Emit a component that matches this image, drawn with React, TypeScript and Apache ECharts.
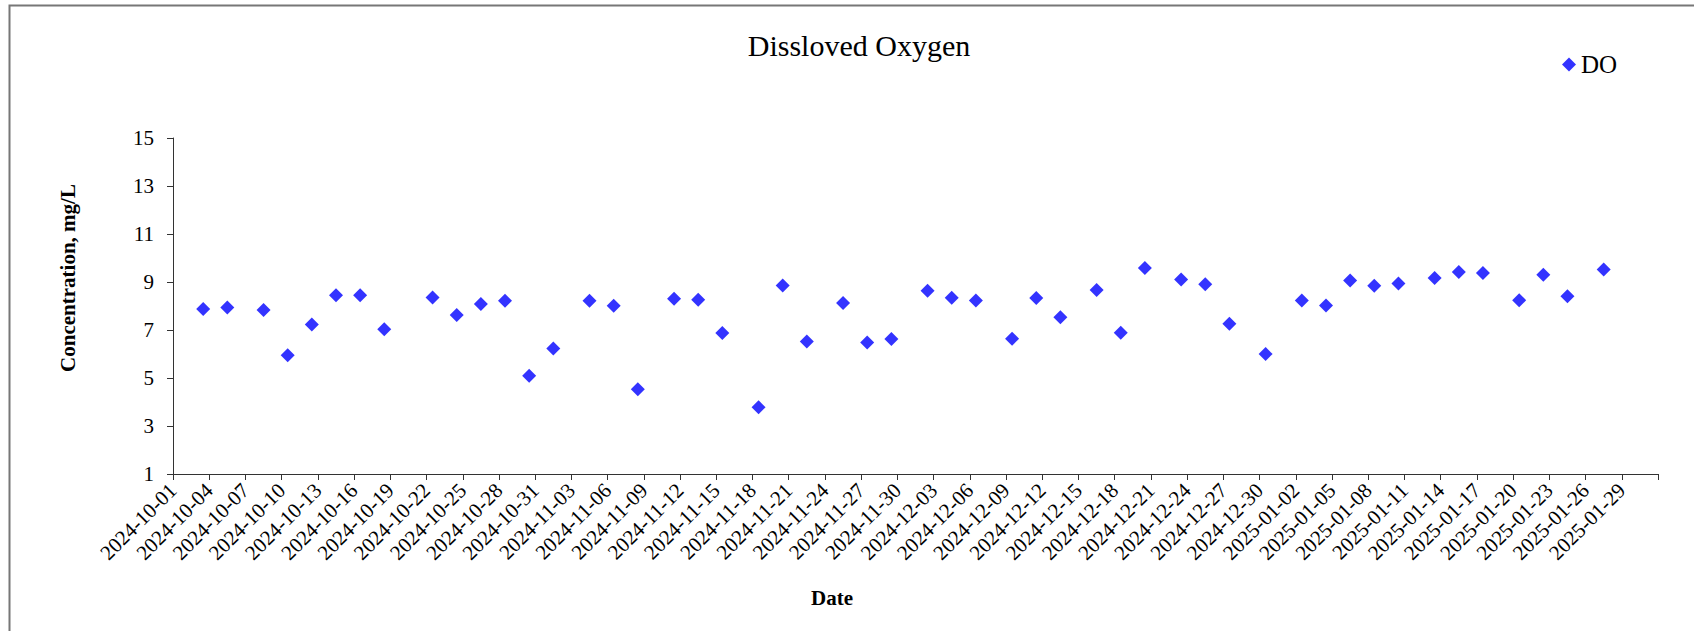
import React, { useEffect, useRef } from 'react';
import * as echarts from 'echarts';

// ---- Data ----
const sampleDates: string[] = [
  '2024-10-03', '2024-10-05', '2024-10-08', '2024-10-10', '2024-10-12', '2024-10-14', '2024-10-16',
  '2024-10-18', '2024-10-22', '2024-10-24', '2024-10-26', '2024-10-28', '2024-10-30', '2024-11-01',
  '2024-11-04', '2024-11-06', '2024-11-08', '2024-11-11', '2024-11-13', '2024-11-15', '2024-11-18',
  '2024-11-20', '2024-11-22', '2024-11-25', '2024-11-27', '2024-11-29', '2024-12-02', '2024-12-04',
  '2024-12-06', '2024-12-09', '2024-12-11', '2024-12-13', '2024-12-16', '2024-12-18', '2024-12-20',
  '2024-12-23', '2024-12-25', '2024-12-27', '2024-12-30', '2025-01-02', '2025-01-04', '2025-01-06',
  '2025-01-08', '2025-01-10', '2025-01-13', '2025-01-15', '2025-01-17', '2025-01-20', '2025-01-22',
  '2025-01-24', '2025-01-27',
];

const doValues: number[] = [
  7.88, 7.94, 7.83, 5.95, 7.23, 8.45, 8.45,
  7.03, 8.35, 7.62, 8.08, 8.22, 5.09, 6.23,
  8.22, 8.01, 4.53, 8.30, 8.26, 6.87, 3.78,
  8.85, 6.52, 8.13, 6.48, 6.62, 8.64, 8.34,
  8.23, 6.64, 8.33, 7.53, 8.67, 6.89, 9.58,
  9.10, 8.91, 7.26, 6.00, 8.23, 8.02, 9.06,
  8.84, 8.94, 9.17, 9.42, 9.37, 8.24, 9.30,
  8.41, 9.52,
];

const xTickLabels: string[] = [
  '2024-10-01', '2024-10-04', '2024-10-07', '2024-10-10', '2024-10-13', '2024-10-16', '2024-10-19',
  '2024-10-22', '2024-10-25', '2024-10-28', '2024-10-31', '2024-11-03', '2024-11-06', '2024-11-09',
  '2024-11-12', '2024-11-15', '2024-11-18', '2024-11-21', '2024-11-24', '2024-11-27', '2024-11-30',
  '2024-12-03', '2024-12-06', '2024-12-09', '2024-12-12', '2024-12-15', '2024-12-18', '2024-12-21',
  '2024-12-24', '2024-12-27', '2024-12-30', '2025-01-02', '2025-01-05', '2025-01-08', '2025-01-11',
  '2025-01-14', '2025-01-17', '2025-01-20', '2025-01-23', '2025-01-26', '2025-01-29',
];
const xAxisEnd = '2025-02-01';

const yTickLabels: number[] = [1, 3, 5, 7, 9, 11, 13, 15];

const chartTitle = 'Dissloved Oxygen';
const xAxisTitle = 'Date';
const yAxisTitle = 'Concentration, mg/L';
const seriesName = 'DO';

// ---- helpers ----
const toMs = (s: string, hours = 0): number => {
  const [y, m, d] = s.split('-').map(Number);
  return Date.UTC(y, m - 1, d, hours);
};
const pad = (n: number) => (n < 10 ? '0' + n : '' + n);
const fmtDate = (v: number): string => {
  const dt = new Date(v);
  return `${dt.getUTCFullYear()}-${pad(dt.getUTCMonth() + 1)}-${pad(dt.getUTCDate())}`;
};

const FONT = "'Times New Roman', 'Liberation Serif', serif";

export default function App() {
  const ref = useRef<HTMLDivElement>(null);

  useEffect(() => {
    if (!ref.current) return;
    const chart = echarts.init(ref.current, undefined, { renderer: 'svg' });

    const labelValues = xTickLabels.map((s) => toMs(s));
    const tickValues = [...labelValues, toMs(xAxisEnd)];
    const points = sampleDates.map((d, i) => [toMs(d, 12), doValues[i]]);

    chart.setOption({
      animation: false,
      backgroundColor: '#ffffff',
      grid: {
        left: 173,
        right: 36,
        top: 138,
        bottom: 157,
        containLabel: false,
        outerBoundsMode: 'none',
      },
      legend: {
        data: [seriesName],
        left: 1562,
        top: 52,
        padding: 0,
        itemWidth: 14,
        itemHeight: 14,
        icon: 'diamond',
        textStyle: { fontSize: 25, fontFamily: FONT, color: '#000' },
      },
      xAxis: {
        type: 'value',
        min: toMs(xTickLabels[0]),
        max: toMs(xAxisEnd),
        axisLine: { show: true, lineStyle: { color: '#333', width: 1 } },
        axisTick: {
          show: true,
          inside: false,
          length: 6,
          customValues: tickValues,
          lineStyle: { color: '#333', width: 1 },
        },
        axisLabel: {
          customValues: labelValues,
          rotate: 45,
          margin: 13,
          padding: [17, 0, 0, 0],
          fontSize: 21,
          fontFamily: FONT,
          color: '#000',
          formatter: (v: number) => fmtDate(v),
        },
        splitLine: { show: false },
      },
      yAxis: {
        type: 'value',
        min: yTickLabels[0],
        max: yTickLabels[yTickLabels.length - 1],
        axisLine: { show: true, lineStyle: { color: '#333', width: 1 } },
        axisTick: {
          show: true,
          inside: false,
          length: 6,
          customValues: yTickLabels,
          lineStyle: { color: '#333', width: 1 },
        },
        axisLabel: {
          customValues: yTickLabels,
          margin: 19,
          fontSize: 21,
          fontFamily: FONT,
          color: '#000',
        },
        splitLine: { show: false },
      },
      series: [
        {
          name: seriesName,
          type: 'scatter',
          symbol: 'diamond',
          symbolSize: 14,
          itemStyle: { color: '#0000ff' },
          data: points,
        },
      ],
      graphic: [
        {
          type: 'rect',
          silent: true,
          shape: { x: 9.5, y: 5.5, width: 2000, height: 1000 },
          style: { fill: 'none', stroke: '#777', lineWidth: 2 },
        },
        {
          type: 'text',
          x: 859,
          y: 45,
          style: {
            text: chartTitle,
            fontSize: 30,
            fontFamily: FONT,
            fill: '#000',
            align: 'center',
            verticalAlign: 'middle',
          },
        },
        {
          type: 'text',
          x: 832,
          y: 598,
          style: {
            text: xAxisTitle,
            fontSize: 21,
            fontWeight: 'bold',
            fontFamily: FONT,
            fill: '#000',
            align: 'center',
            verticalAlign: 'middle',
          },
        },
        {
          type: 'text',
          x: 68,
          y: 278,
          rotation: Math.PI / 2,
          style: {
            text: yAxisTitle,
            fontSize: 21,
            fontWeight: 'bold',
            fontFamily: FONT,
            fill: '#000',
            align: 'center',
            verticalAlign: 'middle',
          },
        },
      ],
    });

    return () => chart.dispose();
  }, []);

  return (
    <div
      ref={ref}
      style={{ position: 'absolute', left: 0, top: 0, width: 1694, height: 631 }}
    />
  );
}
